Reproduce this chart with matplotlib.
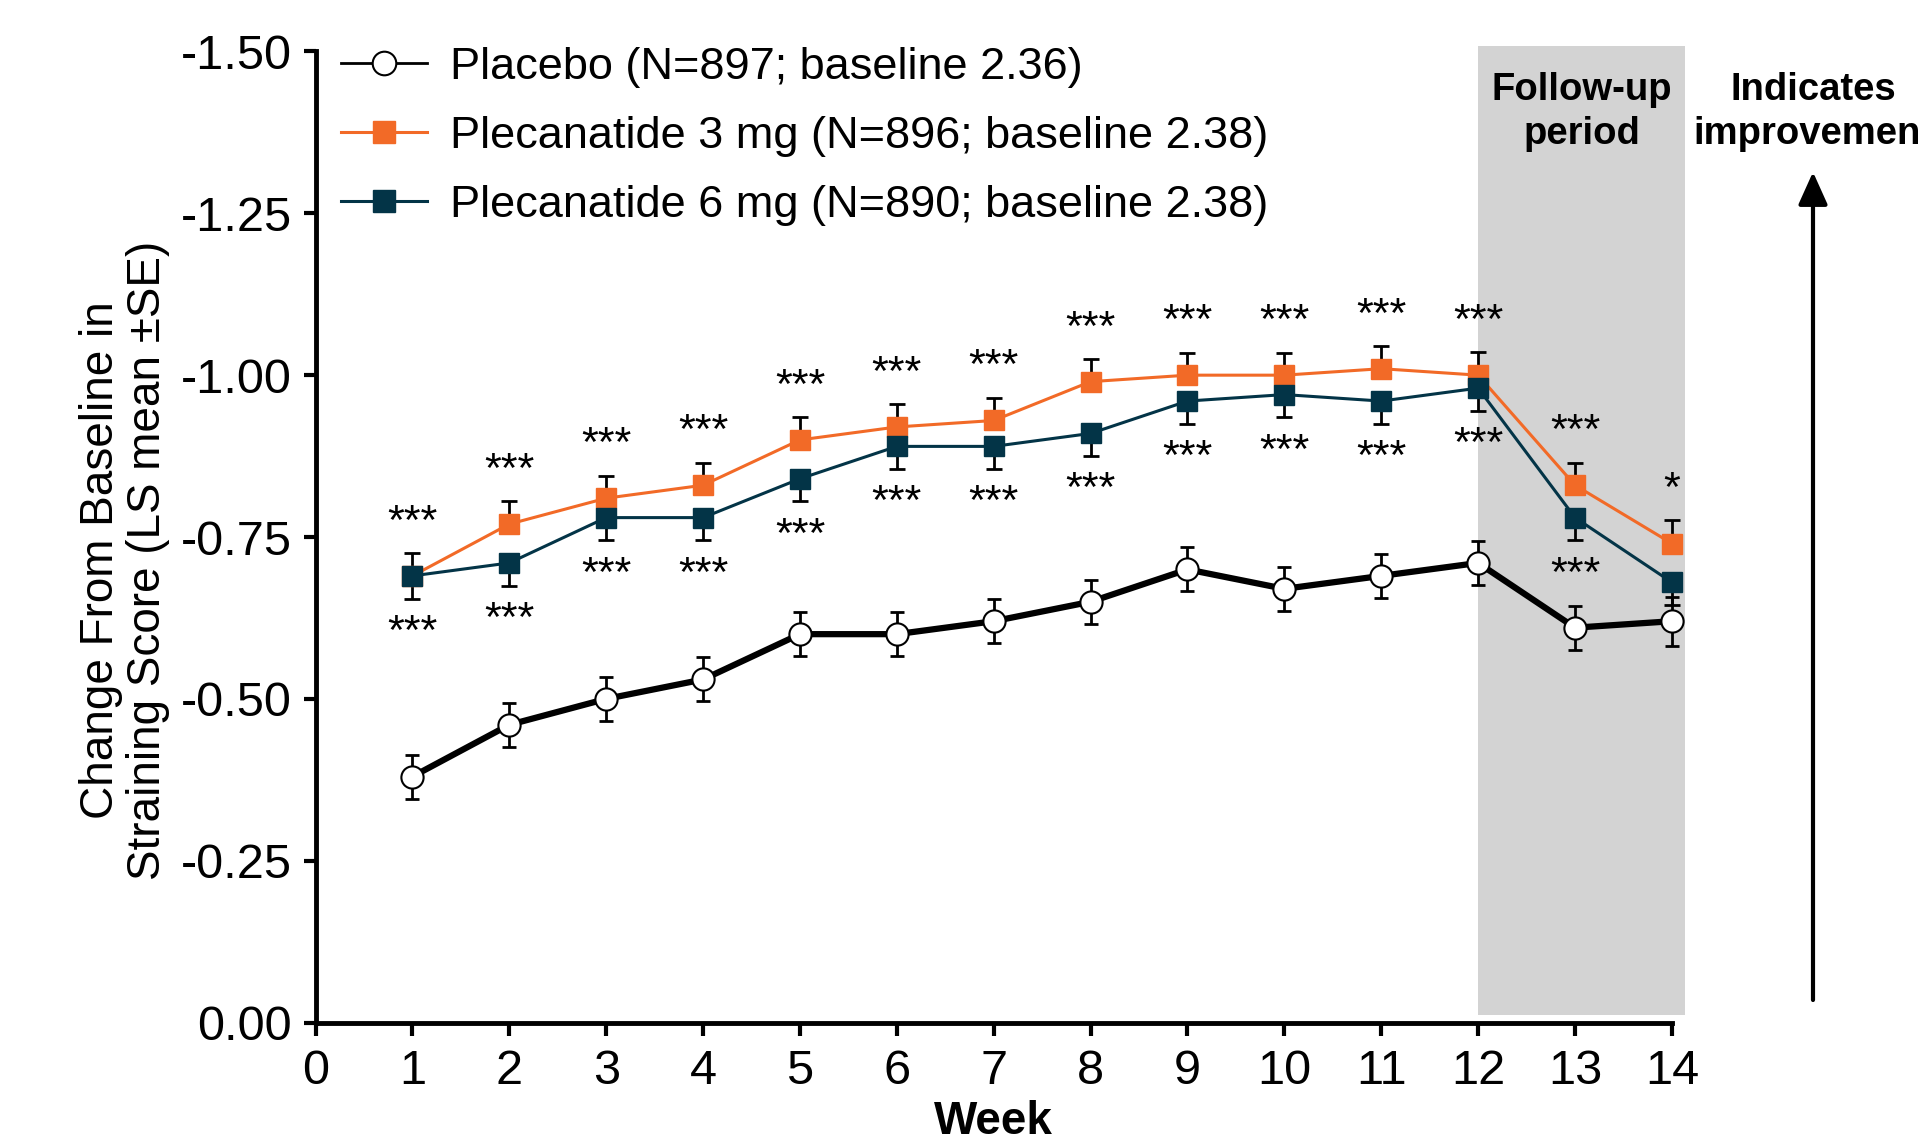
import matplotlib
matplotlib.use("Agg")
import matplotlib.pyplot as plt
from matplotlib.lines import Line2D

plt.rcParams['font.family'] = ['Liberation Sans', 'DejaVu Sans']

# data (change from baseline, LS mean)
weeks = [1, 2, 3, 4, 5, 6, 7, 8, 9, 10, 11, 12, 13, 14]
placebo = [-0.38, -0.46, -0.50, -0.53, -0.60, -0.60, -0.62, -0.65, -0.70, -0.67, -0.69, -0.71, -0.61, -0.62]
dose3 = [-0.69, -0.77, -0.81, -0.83, -0.90, -0.92, -0.93, -0.99, -1.00, -1.00, -1.01, -1.00, -0.83, -0.74]
dose6 = [-0.69, -0.71, -0.78, -0.78, -0.84, -0.89, -0.89, -0.91, -0.96, -0.97, -0.96, -0.98, -0.78, -0.68]
se_placebo = [0.034, 0.034, 0.034, 0.034, 0.034, 0.034, 0.034, 0.034, 0.034, 0.034, 0.034, 0.034, 0.034, 0.038]
se_dose3 = [0.035, 0.035, 0.035, 0.035, 0.035, 0.035, 0.035, 0.035, 0.035, 0.035, 0.035, 0.036, 0.035, 0.036]
se_dose6 = [0.035, 0.035, 0.035, 0.035, 0.035, 0.035, 0.035, 0.035, 0.035, 0.035, 0.035, 0.035, 0.035, 0.035]
sig_top = ['***'] * 13 + ['*']
sig_bottom = ['***'] * 13 + ['']

labels = ['Placebo (N=897; baseline 2.36)',
          'Plecanatide 3 mg (N=896; baseline 2.38)',
          'Plecanatide 6 mg (N=890; baseline 2.38)']
yticks = [0.0, -0.25, -0.5, -0.75, -1.0, -1.25, -1.5]
ytick_labels = ['0.00', '-0.25', '-0.50', '-0.75', '-1.00', '-1.25', '-1.50']
xticks = list(range(0, 15))

orange = '#F26A27'
navy = '#033447'

fig = plt.figure(figsize=(19.18, 11.48), dpi=100)
ax = fig.add_axes([0.1645, 0.1092, 0.7072, 0.846])

# follow-up shading
ax.axvspan(12, 14.14, ymin=0.0075, ymax=1.006, color='#D3D3D3', zorder=0, clip_on=False, lw=0)

zero = [0] * len(weeks)
ax.errorbar(weeks, placebo, yerr=se_placebo, fmt='none', ecolor='black', elinewidth=2,
            capsize=5, capthick=2, zorder=2, clip_on=False)
ax.errorbar(weeks, dose3, yerr=[se_dose3, zero], fmt='none', ecolor='black', elinewidth=2,
            capsize=6, capthick=2, zorder=2, clip_on=False)
ax.errorbar(weeks, dose6, yerr=[zero, se_dose6], fmt='none', ecolor='black', elinewidth=2,
            capsize=6, capthick=2, zorder=2, clip_on=False)

ax.plot(weeks, placebo, color='black', lw=4.5, marker='o', ms=16, mfc='white', mec='black',
        mew=1.5, zorder=4, clip_on=False)
ax.plot(weeks, dose3, color=orange, lw=2.2, marker='s', ms=15, mfc=orange, mec=orange,
        zorder=3, clip_on=False)
ax.plot(weeks, dose6, color=navy, lw=2.2, marker='s', ms=15, mfc=navy, mec=navy,
        zorder=3, clip_on=False)

# significance stars
for w, v, s in zip(weeks, dose3, sig_top):
    ax.text(w, v - 0.082, s, ha='center', va='center', fontsize=31, zorder=5)
for w, v, s in zip(weeks, dose6, sig_bottom):
    ax.text(w, v + 0.088, s, ha='center', va='center', fontsize=31, zorder=5)

ax.set_xlim(0, 14)
ax.set_ylim(0, -1.5)
ax.set_xticks(xticks)
ax.set_xticklabels([str(x) for x in xticks], fontsize=35)
ax.set_yticks(yticks)
ax.set_yticklabels(ytick_labels, fontsize=35)
ax.tick_params(axis='both', direction='out', length=9, width=3, color='black')
ax.tick_params(axis='x', pad=10)
ax.tick_params(axis='y', pad=8)
for side in ['top', 'right']:
    ax.spines[side].set_visible(False)
for side in ['left', 'bottom']:
    ax.spines[side].set_linewidth(3.5)

ax.set_xlabel('Week', fontsize=33, fontweight='bold', labelpad=4)
fig.text(0.065, 0.512, 'Change From Baseline in\nStraining Score (LS mean \u00b1SE)',
         rotation=90, ha='center', va='center', fontsize=33, linespacing=1.1)

# legend
handles = [
    Line2D([], [], color='black', lw=2, marker='o', ms=17, mfc='white', mec='black', mew=1.5),
    Line2D([], [], color=orange, lw=2.2, marker='s', ms=16, mfc=orange, mec=orange),
    Line2D([], [], color=navy, lw=2.2, marker='s', ms=16, mfc=navy, mec=navy),
]
fig.legend(handles, labels, loc='upper left', bbox_to_anchor=(0.178, 0.959), frameon=False,
           fontsize=32.5, handlelength=1.9, handletextpad=0.5, labelspacing=0.62,
           borderaxespad=0, borderpad=0)

fig.text(1582 / 1918, 1 - 112 / 1148, 'Follow-up\nperiod', ha='center', va='center',
         fontsize=27.5, fontweight='bold', linespacing=1.32)
fig.text(1813 / 1918, 1 - 112 / 1148, 'Indicates\nimprovement', ha='center', va='center',
         fontsize=27.5, fontweight='bold', linespacing=1.32)
ax.annotate('', xy=(1813, 1148 - 172), xytext=(1813, 1148 - 1000),
            xycoords='figure pixels', textcoords='figure pixels',
            arrowprops=dict(arrowstyle='-|>,head_length=1.0,head_width=0.45', lw=3, color='black',
                            mutation_scale=20, shrinkA=0, shrinkB=0))

fig.savefig('out.png', dpi=100)
